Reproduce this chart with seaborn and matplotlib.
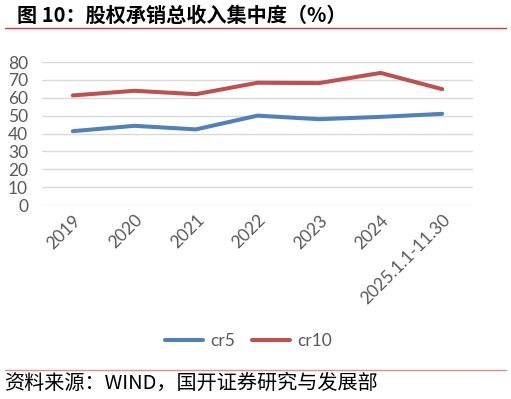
import numpy as np
import pandas as pd
import matplotlib
matplotlib.use("Agg")
import matplotlib.pyplot as plt
from matplotlib.lines import Line2D
import seaborn as sns

# ── data ─────────────────────────────────────────────────────────
YEARS = ["2019", "2020", "2021", "2022", "2023", "2024", "2025.1.1-11.30"]
CR5   = [41.3, 44.3, 42.3, 50.0, 48.0, 49.3, 51.0]
CR10  = [61.3, 63.9, 62.0, 68.4, 68.2, 73.9, 64.8]
Y_TICKS = [0, 10, 20, 30, 40, 50, 60, 70, 80]

COLORS = {"cr5": "#4F81BD", "cr10": "#C0504D"}

df = pd.DataFrame({
    "year": YEARS * 2,
    "value": CR5 + CR10,
    "series": ["cr5"] * len(YEARS) + ["cr10"] * len(YEARS),
})

sns.set_style("white")
plt.rcParams["font.family"] = ["Noto Sans CJK SC", "DejaVu Sans"]

fig = plt.figure(figsize=(5.11, 3.99), dpi=100)
ax = fig.add_axes([0.0822, 0.4862, 0.8434, 0.3584])

sns.lineplot(data=df, x="year", y="value", hue="series",
             palette=COLORS, linewidth=2.9, ax=ax, legend=False,
             sort=False)

ax.set_xlim(-0.5, len(YEARS) - 0.5)
ax.set_ylim(0, 80)
ax.set_yticks(Y_TICKS)
ax.set_yticklabels([str(t) for t in Y_TICKS])
ax.set_xticks(range(len(YEARS)))
ax.set_xticklabels(YEARS, rotation=45, ha="right", rotation_mode="anchor")
ax.tick_params(axis="both", length=0, labelsize=12.5, labelcolor="#595959",
               pad=5)
ax.tick_params(axis="y", pad=10)
for lbl in ax.get_xticklabels() + ax.get_yticklabels():
    lbl.set_family(["Lato", "DejaVu Sans"])
ax.set_xlabel("")
ax.set_ylabel("")
ax.grid(True, axis="y", color="#D9D9D9", linewidth=1.0)
ax.grid(False, axis="x")
for s in ax.spines.values():
    s.set_visible(False)

# legend
handles = [Line2D([0], [0], color=COLORS[k], linewidth=2.9,
                  solid_capstyle="round") for k in ["cr5", "cr10"]]
fig.legend(handles, ["cr5", "cr10"], loc="center", ncol=2,
           bbox_to_anchor=(0.486, 0.146), frameon=False,
           handlelength=2.2, columnspacing=1.0, handletextpad=0.4,
           labelcolor="#595959", prop={"family": ["Lato"], "size": 12.5})

# title and rules
fig.text(0.033, 0.962, "图 10：股权承销总收入集中度（%）", fontsize=14.5,
         fontweight="bold", va="center", ha="left", color="#000000")
fig.add_artist(Line2D([0.01, 0.99], [0.929, 0.929], color="#E0303A",
                      linewidth=1.0))
fig.add_artist(Line2D([0.01, 0.99], [0.073, 0.073], color="#E88A8A",
                      linewidth=1.0))
fig.text(0.008, 0.038, "资料来源：WIND，国开证券研究与发展部", fontsize=14.5,
         va="center", ha="left", color="#000000")

fig.savefig("out.png", dpi=100)
